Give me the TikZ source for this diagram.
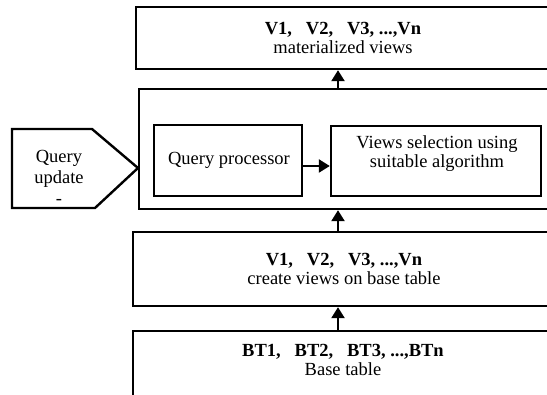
\documentclass[tikz,border=0pt]{standalone}
\usepackage{fontspec}
\setmainfont{Liberation Serif}
\usetikzlibrary{arrows.meta,positioning}

\tikzset{
  box/.style={draw, line width=2.4pt, inner sep=0pt},
  txt/.style={align=center, inner sep=0pt, font=\fontsize{18.5}{19}\selectfont},
  flow/.style={-{Triangle[width=13pt,length=11pt]}, line width=2.4pt}
}

\begin{document}
\begin{tikzpicture}[x=1pt, y=-1pt]
  \useasboundingbox (0,0) rectangle (547,395);
  \clip (0,0) rectangle (547,395);

  %% layers, from the top down
  \node[box, minimum width=434pt, minimum height=62pt] (matbox) at (353,38) {};
  \node[txt] (mattext) at (343,38) {\textbf{V1,\ \ \ V2,\ \ \ V3, ...,Vn}\\materialized views};

  \node[box, minimum width=431pt, minimum height=120pt] (procbox) at (354.5,149) {};

  \node[box, minimum width=148pt, minimum height=71pt] (qpbox) at (228,160.5) {};
  \node[txt] (qptext) at (229,160) {Query processor};

  \node[box, minimum width=210pt, minimum height=70pt] (vsbox) at (436,161) {};
  \node[txt] (vstext) at (437,154) {Views selection using\\suitable algorithm};

  \node[box, minimum width=437pt, minimum height=74pt] (viewbox) at (351.5,269) {};
  \node[txt] (viewtext) at (344,269) {\textbf{V1,\ \ \ V2,\ \ \ V3, ...,Vn}\\create views on base table};

  \node[box, minimum width=437pt, minimum height=90pt] (basebox) at (351.5,376) {};
  \node[txt] (basetext) at (343,360) {\textbf{BT1,\ \ \ BT2,\ \ \ BT3, ...,BTn}\\Base table};

  %% query/update input
  \coordinate (tip) at (138,168);
  \draw[line width=2.4pt, line join=miter] (12,129) -- (92,129) -- (tip) -- (95,208) -- (12,208) -- cycle;
  \node[txt, font=\fontsize{18.5}{21}\selectfont] (qutext) at (59,177) {Query\\update\\-};

  %% arrows
  \coordinate (ax) at (338,0);
  \coordinate (ay) at (0,166);
  \draw[flow] (basebox.north -| ax) -- (viewbox.south -| ax);
  \draw[flow] (viewbox.north -| ax) -- (procbox.south -| ax);
  \draw[flow] (procbox.north -| ax) -- (matbox.south -| ax);
  \draw[flow] (qpbox.east |- ay) -- (vsbox.west |- ay);
\end{tikzpicture}
\end{document}
